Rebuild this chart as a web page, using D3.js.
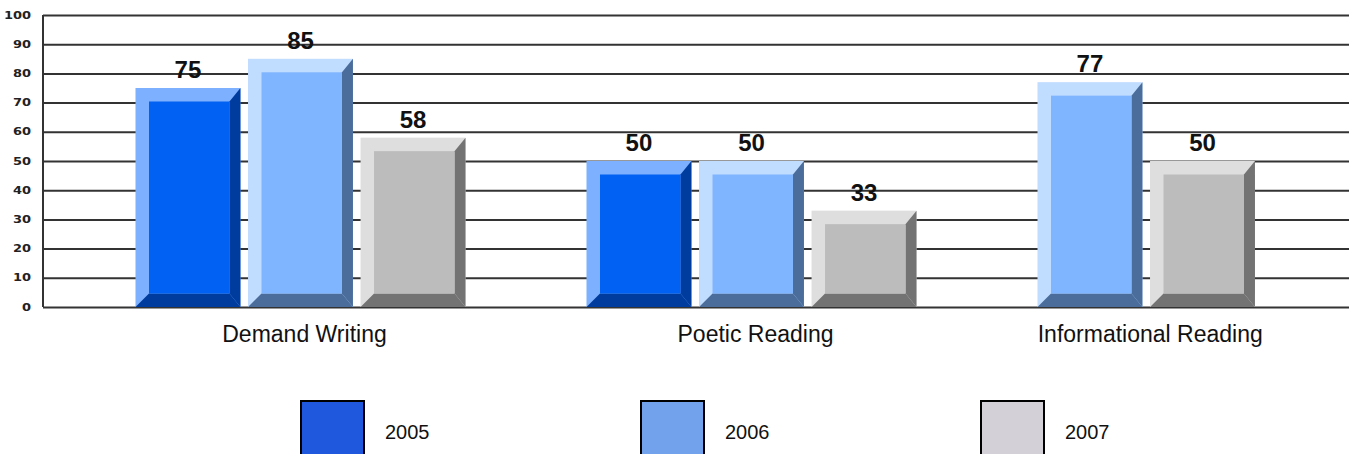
<html>

<head>
  <meta charset="utf-8">
  <title>Writing and Reading Scores</title>
  <script src="https://d3js.org/d3.v7.min.js"></script>
  <style>
    body {
      margin: 0;
      background: #fff;
    }

    .tick-label {
      font-family: "DejaVu Sans", sans-serif;
      font-weight: bold;
      font-size: 10px;
      fill: #222;
    }

    .value-label {
      font-family: "Liberation Sans", Arial, sans-serif;
      font-weight: bold;
      font-size: 24px;
      fill: #111;
    }

    .cat-label {
      font-family: "Liberation Sans", Arial, sans-serif;
      font-size: 23px;
      fill: #111;
    }

    .legend-label {
      font-family: "Liberation Sans", Arial, sans-serif;
      font-size: 20px;
      fill: #111;
    }
  </style>
</head>

<body>
  <svg id="chart" width="1349" height="454"></svg>

  <script>
    // chart values
    const categories = ["Demand Writing", "Poetic Reading", "Informational Reading"];
    const years = ["2005", "2006", "2007"];
    const values2005 = [75, 50, null];
    const values2006 = [85, 50, 77];
    const values2007 = [58, 33, 50];
    const yTicks = [0, 10, 20, 30, 40, 50, 60, 70, 80, 90, 100];

    // bar shading: light bevel, face, dark bevel
    const barColors = {
      "2005": { light: "#7db1ff", face: "#0061f2", dark: "#003c9e" },
      "2006": { light: "#c0dcff", face: "#7fb4ff", dark: "#4a6d9c" },
      "2007": { light: "#dedede", face: "#bcbcbc", dark: "#737373" }
    };
    const legendColors = { "2005": "#1f57dd", "2006": "#73a2ec", "2007": "#d4d0d8" };

    const svg = d3.select("svg#chart");
    const width = +svg.attr("width");

    const plotLeft = 43;
    const yScale = d3.scaleLinear().domain([0, 100]).range([307, 15]);

    const catScale = d3.scaleBand().domain(categories).range([75, 1428]);
    // three slots centred in each category band
    const slotScale = d3.scaleBand().domain([0, 1, 2]).range([60.5, 390.5]).paddingInner(0.0675);

    // gridlines
    const gridAxis = d3.axisLeft(yScale)
      .tickValues(yTicks)
      .tickSize(-(width - plotLeft))
      .tickFormat("");

    svg.append("g")
      .attr("class", "gridlines")
      .attr("transform", `translate(${plotLeft},0)`)
      .call(gridAxis)
      .call(g => g.select(".domain").remove())
      .call(g => g.selectAll("line").attr("stroke", "#333").attr("stroke-width", 2));

    svg.append("line")
      .attr("x1", plotLeft).attr("x2", plotLeft)
      .attr("y1", yScale(100)).attr("y2", yScale(0))
      .attr("stroke", "#333")
      .attr("stroke-width", 2);

    svg.append("g").selectAll("text.tick-label")
      .data(yTicks)
      .join("text")
      .attr("class", "tick-label")
      .attr("x", 31)
      .attr("y", d => yScale(d))
      .attr("dy", "0.36em")
      .attr("text-anchor", "end")
      .attr("transform", d => `translate(31,${yScale(d)}) scale(1.3,1) translate(-31,${-yScale(d)})`)
      .text(d => d);

    // build bars: missing values don't take a slot
    const series = { "2005": values2005, "2006": values2006, "2007": values2007 };
    let bars = [];
    let groups = [];
    categories.forEach((cat, ci) => {
      let slot = 0;
      let xs = [];
      years.forEach(yr => {
        let v = series[yr][ci];
        if (v == null) return;
        let x0 = catScale(cat) + slotScale(slot);
        bars.push({ cat: cat, year: yr, value: v, x0: x0, x1: x0 + slotScale.bandwidth() });
        xs.push(x0, x0 + slotScale.bandwidth());
        slot++;
      });
      groups.push({ cat: cat, center: (d3.min(xs) + d3.max(xs)) / 2 });
    });

    const bevL = 13.5, bevT = 13.5, bevR = 11, bevB = 13.5;
    const base = yScale(0);

    let barG = svg.append("g").attr("class", "bars")
      .selectAll("g.bar")
      .data(bars)
      .join("g")
      .attr("class", "bar");

    barG.append("rect")
      .attr("x", d => d.x0)
      .attr("y", d => yScale(d.value))
      .attr("width", d => d.x1 - d.x0)
      .attr("height", d => base - yScale(d.value))
      .attr("fill", d => barColors[d.year].light);

    // right side bevel
    barG.append("polygon")
      .attr("points", d => {
        let t = yScale(d.value);
        return [[d.x1, t], [d.x1, base], [d.x1 - bevR, base - bevB], [d.x1 - bevR, t + bevT]].join(" ");
      })
      .attr("fill", d => barColors[d.year].dark);

    // bottom bevel
    barG.append("polygon")
      .attr("points", d => [[d.x0, base], [d.x1, base], [d.x1 - bevR, base - bevB], [d.x0 + bevL, base - bevB]].join(" "))
      .attr("fill", d => barColors[d.year].dark);

    barG.append("rect")
      .attr("x", d => d.x0 + bevL)
      .attr("y", d => yScale(d.value) + bevT)
      .attr("width", d => d.x1 - d.x0 - bevL - bevR)
      .attr("height", d => base - yScale(d.value) - bevT - bevB)
      .attr("fill", d => barColors[d.year].face);

    barG.append("text")
      .attr("class", "value-label")
      .attr("x", d => (d.x0 + d.x1) / 2)
      .attr("y", d => yScale(d.value) - 10)
      .attr("text-anchor", "middle")
      .text(d => d.value);

    // category labels
    svg.append("g").selectAll("text.cat-label")
      .data(groups)
      .join("text")
      .attr("class", "cat-label")
      .attr("x", d => d.center + 4)
      .attr("y", 342)
      .attr("text-anchor", "middle")
      .text(d => d.cat);

    // legend
    const legendScale = d3.scaleBand().domain(years).range([301, 1321]);
    let legend = svg.append("g").attr("class", "legend")
      .selectAll("g")
      .data(years)
      .join("g")
      .attr("transform", d => `translate(${legendScale(d)},0)`);

    legend.append("rect")
      .attr("x", 0)
      .attr("y", 401)
      .attr("width", 63)
      .attr("height", 70)
      .attr("fill", d => legendColors[d])
      .attr("stroke", "#000")
      .attr("stroke-width", 2);

    legend.append("text")
      .attr("class", "legend-label")
      .attr("x", 84)
      .attr("y", 439)
      .text(d => d);
  </script>
</body>

</html>
